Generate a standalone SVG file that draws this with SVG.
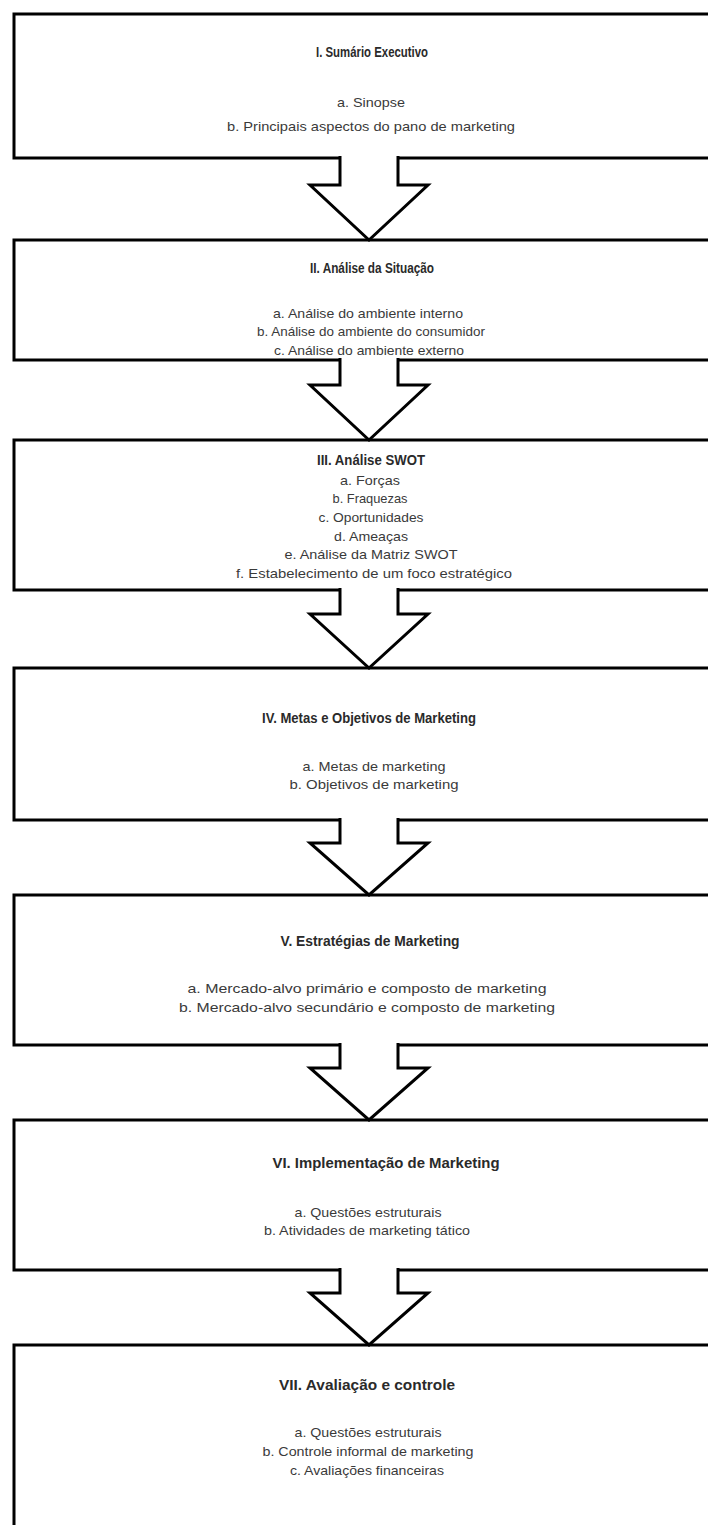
<svg xmlns="http://www.w3.org/2000/svg" width="708" height="1525" viewBox="0 0 708 1525">
<style>
.box{fill:#fff;stroke:#000;stroke-width:3}
.arr{fill:#fff;stroke:#000;stroke-width:3;stroke-linejoin:miter}
text{font-family:"Liberation Sans",Arial,sans-serif;text-anchor:middle}
.t{font-size:14px;font-weight:bold;fill:#2a2a2a}
.s{font-size:13.5px;fill:#3a3a3a}
</style>
<rect width="708" height="1525" fill="#fff"/>
<g id="n1">
<rect class="box" x="14" y="14" width="720" height="144"/>
<text class="t" x="372" y="57" textLength="112" lengthAdjust="spacingAndGlyphs">I. Sumário Executivo</text>
<text class="s" x="371" y="107" textLength="68" lengthAdjust="spacingAndGlyphs">a. Sinopse</text>
<text class="s" x="371" y="131" textLength="288" lengthAdjust="spacingAndGlyphs">b. Principais aspectos do pano de marketing</text>
</g>
<g id="n2">
<rect class="box" x="14" y="240" width="720" height="120"/>
<text class="t" x="372" y="273" textLength="124" lengthAdjust="spacingAndGlyphs">II. Análise da Situação</text>
<text class="s" x="368" y="318" textLength="190" lengthAdjust="spacingAndGlyphs">a. Análise do ambiente interno</text>
<text class="s" x="371" y="336" textLength="228" lengthAdjust="spacingAndGlyphs">b. Análise do ambiente do consumidor</text>
<text class="s" x="369" y="355" textLength="190" lengthAdjust="spacingAndGlyphs">c. Análise do ambiente externo</text>
</g>
<g id="n3">
<rect class="box" x="14" y="440" width="720" height="150"/>
<text class="t" x="371" y="465" textLength="108" lengthAdjust="spacingAndGlyphs">III. Análise SWOT</text>
<text class="s" x="370" y="485" textLength="60" lengthAdjust="spacingAndGlyphs">a. Forças</text>
<text class="s" x="370" y="503" textLength="75" lengthAdjust="spacingAndGlyphs">b. Fraquezas</text>
<text class="s" x="371" y="522" textLength="105" lengthAdjust="spacingAndGlyphs">c. Oportunidades</text>
<text class="s" x="371" y="541" textLength="74" lengthAdjust="spacingAndGlyphs">d. Ameaças</text>
<text class="s" x="371" y="559" textLength="173" lengthAdjust="spacingAndGlyphs">e. Análise da Matriz SWOT</text>
<text class="s" x="374" y="578" textLength="276" lengthAdjust="spacingAndGlyphs">f. Estabelecimento de um foco estratégico</text>
</g>
<g id="n4">
<rect class="box" x="14" y="668" width="720" height="152"/>
<text class="t" x="369" y="723" textLength="214" lengthAdjust="spacingAndGlyphs">IV. Metas e Objetivos de Marketing</text>
<text class="s" x="374" y="771" textLength="143" lengthAdjust="spacingAndGlyphs">a. Metas de marketing</text>
<text class="s" x="374" y="789" textLength="169" lengthAdjust="spacingAndGlyphs">b. Objetivos de marketing</text>
</g>
<g id="n5">
<rect class="box" x="14" y="895" width="720" height="150"/>
<text class="t" x="370" y="946" textLength="179" lengthAdjust="spacingAndGlyphs">V. Estratégias de Marketing</text>
<text class="s" x="367" y="993" textLength="359" lengthAdjust="spacingAndGlyphs">a. Mercado-alvo primário e composto de marketing</text>
<text class="s" x="367" y="1012" textLength="376" lengthAdjust="spacingAndGlyphs">b. Mercado-alvo secundário e composto de marketing</text>
</g>
<g id="n6">
<rect class="box" x="14" y="1120" width="720" height="150"/>
<text class="t" x="386" y="1168" textLength="227" lengthAdjust="spacingAndGlyphs">VI. Implementação de Marketing</text>
<text class="s" x="368" y="1217" textLength="147" lengthAdjust="spacingAndGlyphs">a. Questões estruturais</text>
<text class="s" x="367" y="1235" textLength="206" lengthAdjust="spacingAndGlyphs">b. Atividades de marketing tático</text>
</g>
<g id="n7">
<rect class="box" x="14" y="1345" width="720" height="200"/>
<text class="t" x="367" y="1390" textLength="176" lengthAdjust="spacingAndGlyphs">VII. Avaliação  e controle</text>
<text class="s" x="368" y="1437" textLength="147" lengthAdjust="spacingAndGlyphs">a. Questões estruturais</text>
<text class="s" x="368" y="1456" textLength="211" lengthAdjust="spacingAndGlyphs">b. Controle informal de marketing</text>
<text class="s" x="367" y="1475" textLength="154" lengthAdjust="spacingAndGlyphs">c. Avaliações financeiras</text>
</g>
<g id="connectors">
<path class="arr" d="M340,156 V185 H310 L369,240 L428,185 H398 V156"/>
<path class="arr" d="M340,358 V385 H310 L369,440 L428,385 H398 V358"/>
<path class="arr" d="M340,588 V614 H310 L369,668 L428,614 H398 V588"/>
<path class="arr" d="M340,818 V843 H310 L369,895 L428,843 H398 V818"/>
<path class="arr" d="M340,1043 V1068 H310 L369,1120 L428,1068 H398 V1043"/>
<path class="arr" d="M340,1268 V1293 H310 L369,1345 L428,1293 H398 V1268"/>
</g>
</svg>
